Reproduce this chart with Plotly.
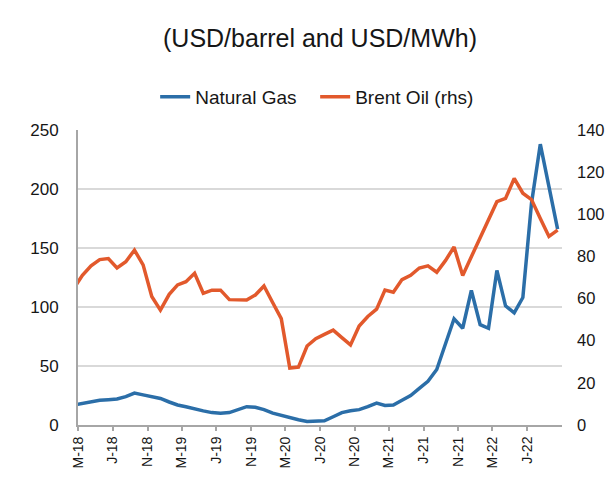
import pandas as pd
import plotly.graph_objects as go

# Monthly observations, Feb-2018 .. Oct-2022 (plotted at mid-month)
months = pd.date_range("2018-02-01", periods=57, freq="MS")

natural_gas = [17, 18.5, 20, 21, 21.5, 22, 24, 27, 25.5, 24,
               22.5, 19.5, 17, 15.5, 13.5, 12, 10.5, 10, 10.5, 13,
               15.5, 15, 13, 10, 8, 6, 4.5, 3, 3, 3.5,
               7, 10.5, 12, 13, 15.5, 18.5, 16.5, 17, 21, 25,
               31, 37, 47, 68, 90, 82, 114, 85, 82, 131,
               101, 95, 108, 188, 238, 202, 166]

brent_oil = [65, 71, 75.5, 78.5, 79, 74.5, 77.5, 83, 76, 61,
             54.5, 62, 66.5, 68, 72, 62.5, 64, 64, 59.5, 59.5,
             59.3, 61.7, 66, 58, 50.5, 27, 27.5, 37.5, 41, 43,
             45, 41.5, 38, 47, 51.5, 55, 64, 63, 69, 71,
             74.5, 75.5, 72.5, 78, 84.5, 71, 80, 89, 98, 106,
             107.5, 117, 110, 107, 98, 89.5, 92.5]

tick_dates = ["2018-03-01", "2018-07-01", "2018-11-01", "2019-03-01", "2019-07-01",
              "2019-11-01", "2020-03-01", "2020-07-01", "2020-11-01", "2021-03-01",
              "2021-07-01", "2021-11-01", "2022-03-01", "2022-07-01"]
tick_labels = ["M-18", "J-18", "N-18", "M-19", "J-19", "N-19", "M-20", "J-20",
               "N-20", "M-21", "J-21", "N-21", "M-22", "J-22"]

left_ticks = [0, 50, 100, 150, 200, 250]
right_ticks = [0, 20, 40, 60, 80, 100, 120, 140]

FONT = "Liberation Sans, Arial, sans-serif"
TXT = "#161616"
BLUE = "#2b6ea8"
ORANGE = "#e2592c"

# the page body adds an 8px offset; keep the figure inside the window
W, H = 600, 462

fig = go.Figure()
fig.add_trace(go.Scatter(
    x=months, y=natural_gas, name="Natural Gas", mode="lines",
    xperiod="M1", xperiodalignment="middle",
    line=dict(color=BLUE, width=3.5), yaxis="y"))
fig.add_trace(go.Scatter(
    x=months, y=brent_oil, name="Brent Oil (rhs)", mode="lines",
    xperiod="M1", xperiodalignment="middle",
    line=dict(color=ORANGE, width=3.5), yaxis="y2"))

fig.update_layout(
    width=W, height=H,
    margin=dict(l=70, r=45.5, t=122, b=45),
    paper_bgcolor="white", plot_bgcolor="white",
    font=dict(family=FONT, color=TXT),
    title=dict(text="(USD/barrel and USD/MWh)", x=0.5, xref="paper",
               xanchor="center", y=1 - 30 / H, yref="container",
               yanchor="middle", font=dict(size=25, color=TXT)),
    legend=dict(orientation="h", x=0.49, xanchor="center", y=1.112,
                yanchor="middle", font=dict(size=19, color=TXT),
                itemwidth=30, entrywidth=115, entrywidthmode="pixels",
                bgcolor="rgba(0,0,0,0)"),
    showlegend=True,
    xaxis=dict(
        type="date", range=["2018-03-01", "2022-11-01"],
        tickvals=tick_dates, ticktext=tick_labels, tickangle=-90,
        tickfont=dict(size=14, color=TXT),
        showgrid=False, showline=True, linecolor="#a6a6a6", linewidth=2,
        ticks="outside", ticklen=4, tickcolor="#a6a6a6", tickwidth=1.5,
        automargin=False, zeroline=False),
    yaxis=dict(
        range=[0, 250], tickvals=left_ticks,
        tickfont=dict(size=17, color=TXT),
        showgrid=True, gridcolor="#d9d9d9", gridwidth=1.5,
        showline=True, linecolor="#a6a6a6", linewidth=2,
        ticks="", ticklabelstandoff=14, zeroline=False, automargin=False),
    yaxis2=dict(
        range=[0, 140], tickvals=right_ticks, overlaying="y", side="right",
        tickfont=dict(size=16.5, color=TXT), showgrid=False, showline=False,
        ticks="", ticklabelstandoff=14, zeroline=False, automargin=False),
)

fig.write_html("out.html")
